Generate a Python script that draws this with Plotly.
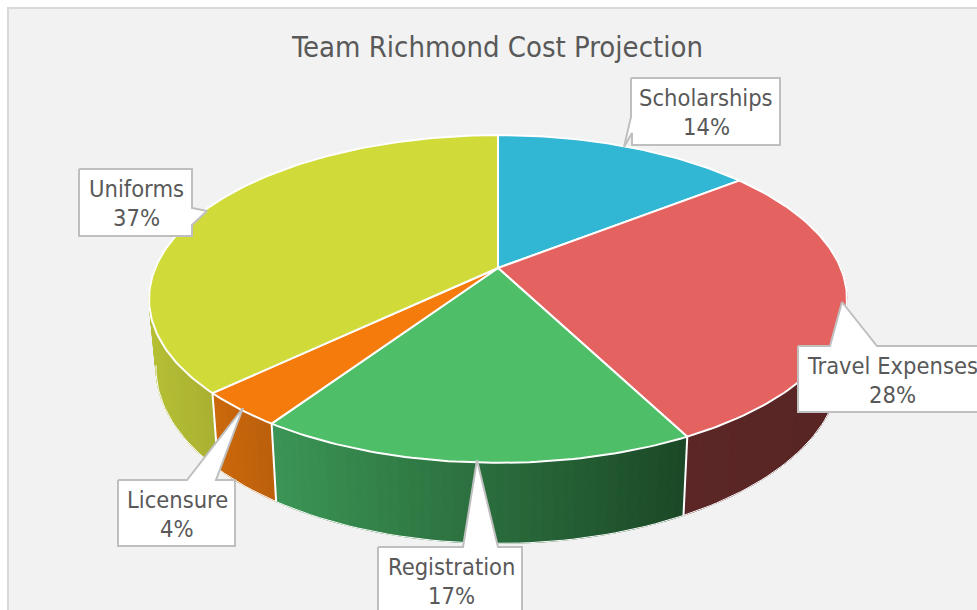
import math
import plotly.graph_objects as go

# ---- data ----
categories = ["Scholarships", "Travel Expenses", "Registration", "Licensure", "Uniforms"]
shares = [14.4, 28.0, 17.0, 3.5, 37.1]
chart_title = "Team Richmond Cost Projection"

# ---- styles ----
TOP_COLORS = ["#31b6d3", "#e4625f", "#4fbe68", "#f47b0c", "#d0db3a"]
WALL_LEFT = ["#1f7a8e", "#5c2626", "#3b9555", "#cb680b", "#b5bf33"]
WALL_RIGHT = ["#1f7a8e", "#572424", "#1b4826", "#bb5f0c", "#a9b032"]
TEXT = "#595959"
EDGE = "#bfbfbf"
FONT = "DejaVu Sans Condensed, Noto Sans"

# ---- projection of the tilted disc ----
CX, CY, A, B, K = 498.0, 268.0, 342.7, 158.0, 0.189


def top_pt(deg):
    t = math.radians(deg)
    u, v = math.sin(t), -math.cos(t)
    w = 1 - K * v
    return CX + A * u / w, CY + B * v / w


def low_pt(deg):
    x, y = top_pt(deg)
    return CX + 0.98 * (x - CX), CY + 67 + 1.07 * (y - CY)


def mix(c1, c2, f):
    f = min(1.0, max(0.0, f))
    a = [int(c1[i:i + 2], 16) for i in (1, 3, 5)]
    b = [int(c2[i:i + 2], 16) for i in (1, 3, 5)]
    return "rgb(%d,%d,%d)" % tuple(round(p + (q - p) * f) for p, q in zip(a, b))


def steps(a, b, n):
    return [a + (b - a) * i / n for i in range(n + 1)]


fig = go.Figure()


def poly(xs, ys, fill, line=None, width=0, closed=True):
    fig.add_trace(go.Scatter(
        x=xs, y=ys, mode="lines", fill="toself" if closed else "none",
        fillcolor=fill, hoverinfo="skip", showlegend=False,
        line=dict(color=line or fill, width=width)))


# slice angles
angles = []
acc = 0.0
for s in shares:
    angles.append((acc * 3.6, (acc + s) * 3.6))
    acc += s

# ---- outer walls ----
for i, (a0, a1) in enumerate(angles):
    lo, hi = max(a0, 85.0), min(a1, 275.0)
    if hi <= lo:
        continue
    n = max(3, int((hi - lo) / 1.5))
    xs_band = [top_pt(d)[0] for d in steps(lo, hi, n)]
    xl0, xl1 = min(xs_band), max(xs_band)
    ang = steps(lo, hi, n)
    for p, q in zip(ang[:-1], ang[1:]):
        xa, ya = top_pt(p)
        xb, yb = top_pt(q)
        xc, yc = low_pt(q)
        xd, yd = low_pt(p)
        f = ((xa + xb) / 2 - xl0) / (xl1 - xl0)
        col = mix(WALL_LEFT[i], WALL_RIGHT[i], f)
        poly([xa, xb, xc, xd, xa], [ya, yb, yc, yd, ya], col, width=1)
    # wall rims
    rim = steps(max(lo, 100.0), min(hi, 260.0), n)
    poly([low_pt(d)[0] for d in rim], [low_pt(d)[1] for d in rim], "rgba(0,0,0,0)",
         line="#ffffff", width=1, closed=False)

# wall separators
for i, (a0, a1) in enumerate(angles):
    if 85 < a1 < 275 and i < len(angles) - 1:
        x0, y0 = top_pt(a1)
        x1, y1 = low_pt(a1)
        poly([x0, x1], [y0, y1], "rgba(0,0,0,0)", line="#ffffff", width=2, closed=False)

# ---- top surface ----
for i, (a0, a1) in enumerate(angles):
    arc = steps(a0, a1, max(8, int(a1 - a0)))
    xs = [CX] + [top_pt(d)[0] for d in arc] + [CX]
    ys = [CY] + [top_pt(d)[1] for d in arc] + [CY]
    poly(xs, ys, TOP_COLORS[i], line="#ffffff", width=2)

# ---- callouts ----
CALLOUTS = {
    "Scholarships": [(631, 78), (780, 78), (780, 145), (632, 145), (632, 133), (624, 147), (631, 117)],
    "Travel Expenses": [(798, 346), (830, 346), (842, 302), (877, 346), (990, 346), (990, 412), (798, 412)],
    "Registration": [(378, 547), (463, 547), (477, 460), (498, 547), (522, 547), (522, 620), (378, 620)],
    "Licensure": [(118, 480), (187, 480), (243, 408), (216, 480), (235, 480), (235, 546), (118, 546)],
    "Uniforms": [(79, 169), (192, 169), (192, 208), (207, 211), (192, 225), (192, 236), (79, 236)],
}
TEXT_POS = {
    "Scholarships": (706, 98, 127),
    "Travel Expenses": (892, 366, 395),
    "Registration": (451, 567, 596),
    "Licensure": (177, 500, 529),
    "Uniforms": (136, 189, 218),
}
annotations = []
for name, share in zip(categories, shares):
    pts = CALLOUTS[name]
    xs = [p[0] for p in pts] + [pts[0][0]]
    ys = [p[1] for p in pts] + [pts[0][1]]
    poly(xs, ys, "#ffffff", line=EDGE, width=2)
    tx, y1, y2 = TEXT_POS[name]
    for line_text, ty in ((name, y1), (f"{round(share)}%", y2)):
        annotations.append(dict(
            x=tx, y=ty, xref="x", yref="y", showarrow=False, align="center",
            text=line_text, font=dict(family=FONT, size=23.5, color=TEXT)))

annotations.append(dict(
    x=497, y=47, xref="x", yref="y", showarrow=False, text=chart_title,
    font=dict(family=FONT, size=29, color=TEXT)))

fig.update_layout(
    width=977, height=610, margin=dict(l=0, r=0, t=0, b=0),
    paper_bgcolor="#ffffff", plot_bgcolor="#ffffff", showlegend=False,
    xaxis=dict(range=[0, 977], visible=False, fixedrange=True),
    yaxis=dict(range=[610, 0], visible=False, fixedrange=True),
    annotations=annotations,
    shapes=[dict(type="rect", xref="x", yref="y", x0=8, y0=8, x1=1000, y1=640,
                 fillcolor="#f2f2f2", line=dict(color="#d9d9d9", width=2), layer="below")],
)

fig.write_html("out.html", config={"displayModeBar": False},
               post_script="document.body.style.margin='0';document.body.style.overflow='hidden';")
